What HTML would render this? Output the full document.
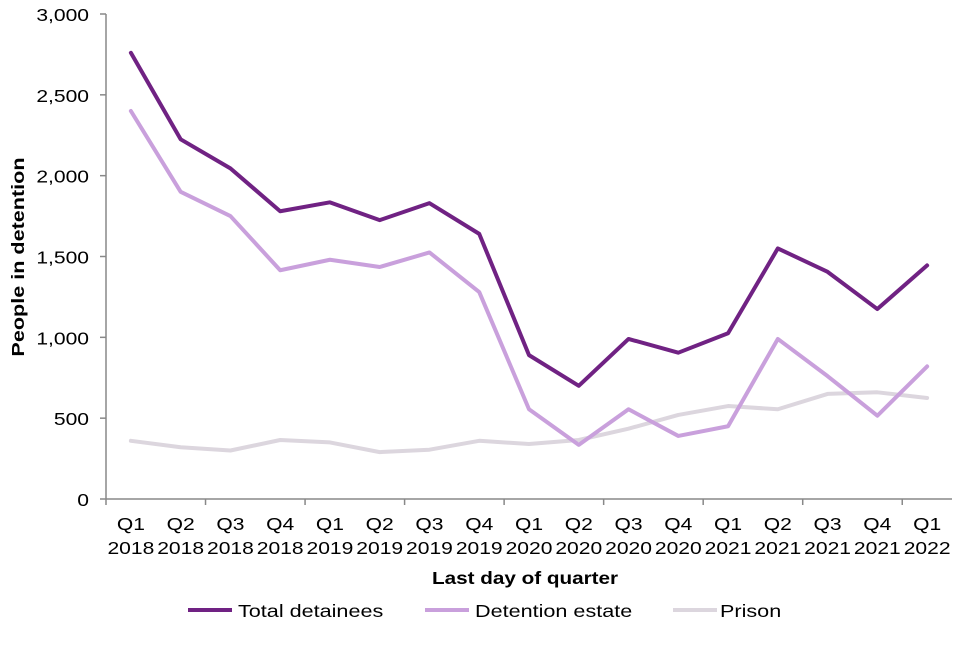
<!DOCTYPE html>
<html><head><meta charset="utf-8"><style>
body{margin:0;background:#fff;font-family:"Liberation Sans",sans-serif}
</style></head><body>
<svg id="chart" width="960" height="640" xmlns="http://www.w3.org/2000/svg" font-family="Liberation Sans, sans-serif">
<g id="grid"></g>
<g id="series"></g>
<text x="0" y="0" transform="translate(24,257) rotate(-90) scale(1.2,1)" text-anchor="middle" font-size="18" font-weight="bold" fill="#000">People in detention</text>
<text x="0" y="0" transform="translate(525,584) scale(1.15,1)" text-anchor="middle" font-size="18" font-weight="bold" fill="#000">Last day of quarter</text>
<g font-size="18" fill="#000">
<g><line x1="188" y1="610" x2="232" y2="610" stroke="#702283" stroke-width="4"/><text x="0" y="0" transform="translate(238,617) scale(1.2,1)">Total detainees</text></g>
<g><line x1="425" y1="610" x2="469" y2="610" stroke="#c9a0dc" stroke-width="4"/><text x="0" y="0" transform="translate(475,617) scale(1.2,1)">Detention estate</text></g>
<g><line x1="673" y1="610" x2="717" y2="610" stroke="#dcd6de" stroke-width="4"/><text x="0" y="0" transform="translate(720,617) scale(1.2,1)">Prison</text></g>
</g>
</svg>
<script>
const quarters=["Q1","Q2","Q3","Q4","Q1","Q2","Q3","Q4","Q1","Q2","Q3","Q4","Q1","Q2","Q3","Q4","Q1"];
const years=["2018","2018","2018","2018","2019","2019","2019","2019","2020","2020","2020","2020","2021","2021","2021","2021","2022"];
const totalDetainees=[2760,2225,2045,1780,1835,1725,1830,1640,890,700,990,905,1025,1550,1405,1175,1445];
const detentionEstate=[2400,1900,1750,1415,1480,1435,1525,1280,555,335,555,390,450,990,760,515,820];
const prison=[360,320,300,365,350,290,305,360,340,365,435,520,575,555,650,660,625];
const yTicks=[0,500,1000,1500,2000,2500,3000];
const yTickLabels=["0","500","1,000","1,500","2,000","2,500","3,000"];

const NS="http://www.w3.org/2000/svg";
const L=106,R=952,T=14,B=499,yMax=3000;
const band=(R-L)/quarters.length;
const xs=i=>L+band*(i+0.5);
const ys=v=>B-(v/yMax)*(B-T);
function mk(tag,attrs,parent){const e=document.createElementNS(NS,tag);for(const k in attrs)e.setAttribute(k,attrs[k]);parent.appendChild(e);return e;}
function txt(x,y,anchor,str,parent){
  const t=mk('text',{x:0,y:0,transform:`translate(${x},${y}) scale(1.17,1)`,'text-anchor':anchor,'font-size':18,fill:'#000'},parent);
  t.textContent=str;return t;
}
const g=document.getElementById('grid');
let ax=mk('line',{x1:L,y1:T,x2:L,y2:B,stroke:'#888','stroke-width':1.5},g);


let bx=mk('line',{x1:L,y1:B,x2:R,y2:B,stroke:'#888','stroke-width':1.5},g);


yTicks.forEach((v,i)=>{
  mk('line',{x1:L-6,y1:ys(v),x2:L,y2:ys(v),stroke:'#888','stroke-width':1.5},g);
  const t=txt(L-17,ys(v)+7,'end',yTickLabels[i],g);
  
  
});
for(let i=0;i<=quarters.length;i+=2){
  const x=L+band*i;
  mk('line',{x1:x,y1:B,x2:x,y2:B+6,stroke:'#888','stroke-width':1.5},g);
}
quarters.forEach((q,i)=>{
  const t=txt(xs(i),530,'middle',q,g);
  
  
  const t2=txt(xs(i),554,'middle',years[i],g);
  
  
});
const s=document.getElementById('series');
function line(data,color,name){
  const p=mk('polyline',{points:data.map((v,i)=>xs(i)+','+ys(v)).join(' '),fill:'none',stroke:color,'stroke-width':4,'stroke-linejoin':'round','stroke-linecap':'round'},s);
  
  
}
line(prison,'#dcd6de','prison-line');
line(detentionEstate,'#c9a0dc','detention-estate-line');
line(totalDetainees,'#702283','total-detainees-line');
</script>
</body></html>
